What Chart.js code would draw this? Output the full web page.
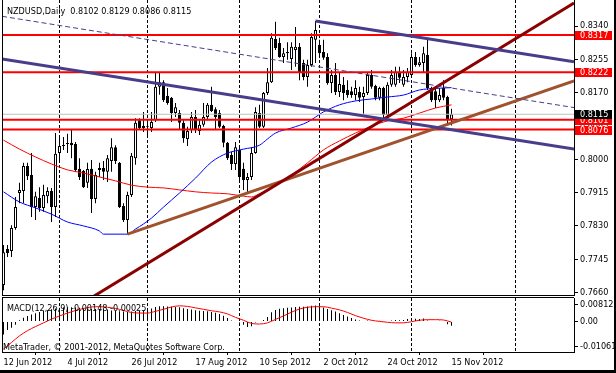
<!DOCTYPE html>
<html><head><meta charset="utf-8">
<script src="https://cdn.jsdelivr.net/npm/chart.js@4/dist/chart.umd.min.js"></script>
<style>
html,body{margin:0;padding:0;background:#fff;}
#wrap{position:relative;width:616px;height:373px;overflow:hidden;background:#fff;}
#c1{position:absolute;left:0;top:0;}
#c2{position:absolute;left:0;top:296px;}
#fr{position:absolute;right:0;top:0;width:2px;height:373px;background:#000;}
#fb{position:absolute;left:0;bottom:0;width:616px;height:3px;background:#000;}
</style></head><body>
<div id="wrap"><canvas id="c1" width="616" height="296"></canvas><canvas id="c2" width="616" height="77"></canvas><div id="fr"></div><div id="fb"></div></div>
<script>
// ---------- DATA ----------
const dateTickIdx = [0,16,32,48,64,80,96,112];
const dateLabels = ["12 Jun 2012","4 Jul 2012","26 Jul 2012","17 Aug 2012","10 Sep 2012","2 Oct 2012","24 Oct 2012","15 Nov 2012"];
const monthGridIdx = [14,36,59,79,102,128];
const priceTicks = [0.7660,0.7745,0.7830,0.7915,0.8000,0.8085,0.8170,0.8255,0.8340];

const opens = [0.7679,0.7771,0.7766,0.7825,0.7914,0.7919,0.7983,0.7960,0.7878,0.7901,
0.7876,0.7906,0.7919,0.7878,0.8016,0.8034,0.8039,0.8042,0.8039,0.7976,
0.7970,0.7940,0.7976,0.7899,0.7973,0.7978,0.7968,0.7996,0.8031,0.7991,
0.7881,0.7845,0.7909,0.8003,0.8100,0.8080,0.8083,0.8080,0.8100,0.8185,
0.8197,0.8162,0.8157,0.8118,0.8118,0.8093,0.8052,0.8075,0.8108,0.8072,
0.8088,0.8108,0.8139,0.8128,0.8118,0.8085,0.8042,0.8011,0.7988,0.8024,
0.7976,0.7947,0.7955,0.8016,0.8118,0.8083,0.8169,0.8197,0.8307,0.8297,
0.8261,0.8274,0.8256,0.8279,0.8287,0.8246,0.8210,0.8241,0.8305,0.8292,
0.8274,0.8261,0.8195,0.8215,0.8172,0.8190,0.8177,0.8174,0.8164,0.8172,
0.8159,0.8169,0.8215,0.8187,0.8157,0.8182,0.8113,0.8190,0.8190,0.8223,
0.8190,0.8210,0.8215,0.8261,0.8241,0.8246,0.8266,0.8182,0.8174,0.8151,
0.8182,0.8159,0.8102];
const highs = [0.7781,0.7781,0.7832,0.7904,0.7940,0.7991,0.7991,0.8016,0.7917,0.7929,
0.7935,0.7929,0.7927,0.8067,0.8057,0.8057,0.8065,0.8075,0.8044,0.8003,
0.7973,0.7991,0.7998,0.7968,0.7991,0.7996,0.8011,0.8054,0.8036,0.7993,
0.7888,0.7917,0.8016,0.8105,0.8105,0.8121,0.8100,0.8121,0.8220,0.8220,
0.8202,0.8182,0.8159,0.8144,0.8126,0.8100,0.8083,0.8121,0.8126,0.8100,
0.8144,0.8144,0.8185,0.8133,0.8126,0.8088,0.8044,0.8019,0.8044,0.8029,
0.7991,0.7965,0.8031,0.8133,0.8139,0.8172,0.8233,0.8322,0.8351,0.8310,
0.8284,0.8299,0.8299,0.8338,0.8297,0.8254,0.8254,0.8322,0.8353,0.8305,
0.8305,0.8271,0.8228,0.8246,0.8220,0.8210,0.8202,0.8185,0.8202,0.8185,
0.8185,0.8223,0.8228,0.8190,0.8185,0.8185,0.8197,0.8228,0.8236,0.8236,
0.8228,0.8233,0.8271,0.8274,0.8261,0.8287,0.8310,0.8185,0.8185,0.8182,
0.8202,0.8162,0.8129];
const lows = [0.7666,0.7751,0.7751,0.7820,0.7888,0.7888,0.7947,0.7853,0.7845,0.7866,
0.7866,0.7888,0.7840,0.7853,0.7993,0.8024,0.8016,0.8003,0.7968,0.7947,
0.7927,0.7927,0.7863,0.7888,0.7955,0.7947,0.7942,0.7968,0.7988,0.7876,
0.7840,0.7809,0.7904,0.7986,0.8075,0.8070,0.8057,0.8070,0.8095,0.8165,
0.8146,0.8139,0.8095,0.8108,0.8075,0.8042,0.8034,0.8067,0.8067,0.8062,
0.8083,0.8100,0.8121,0.8075,0.8080,0.8031,0.7998,0.7973,0.7973,0.7942,
0.7922,0.7914,0.7947,0.8014,0.8080,0.8080,0.8164,0.8195,0.8279,0.8259,
0.8246,0.8254,0.8228,0.8236,0.8202,0.8202,0.8185,0.8236,0.8246,0.8261,
0.8254,0.8190,0.8169,0.8164,0.8159,0.8151,0.8157,0.8157,0.8151,0.8146,
0.8116,0.8164,0.8180,0.8151,0.8151,0.8100,0.8108,0.8185,0.8185,0.8195,
0.8185,0.8197,0.8210,0.8236,0.8236,0.8223,0.8177,0.8146,0.8131,0.8146,
0.8151,0.8088,0.8086];
const closes = [0.7763,0.7761,0.7825,0.7878,0.7922,0.7983,0.7957,0.7878,0.7906,0.7876,
0.7909,0.7919,0.7878,0.8014,0.8034,0.8036,0.8040,0.8036,0.7973,0.7955,
0.7929,0.7975,0.7899,0.7960,0.7978,0.7968,0.8003,0.8031,0.7996,0.7878,
0.7845,0.7909,0.8009,0.8093,0.8080,0.8085,0.8084,0.8095,0.8185,0.8197,
0.8151,0.8144,0.8118,0.8133,0.8093,0.8054,0.8072,0.8108,0.8075,0.8088,
0.8108,0.8139,0.8123,0.8108,0.8083,0.8042,0.8003,0.7988,0.8031,0.7955,
0.7947,0.7955,0.8016,0.8121,0.8083,0.8169,0.8197,0.8310,0.8284,0.8261,
0.8271,0.8271,0.8287,0.8287,0.8220,0.8210,0.8241,0.8312,0.8330,0.8271,
0.8259,0.8195,0.8215,0.8172,0.8192,0.8169,0.8164,0.8164,0.8182,0.8157,
0.8169,0.8215,0.8185,0.8157,0.8182,0.8113,0.8190,0.8215,0.8223,0.8208,
0.8210,0.8223,0.8261,0.8241,0.8248,0.8271,0.8182,0.8151,0.8151,0.8164,
0.8157,0.8103,0.8115];

const blueMAIdx = [0,4,8,12,16,20,24,25,31,33,35,37,40,44,48,52,56,60,64,66,68,72,76,80,84,88,92,96,100,104,108,112];
const blueMA = [0.7917,0.7891,0.7876,0.7860,0.7840,0.7830,0.7817,0.7809,0.7809,0.7822,0.7835,0.7850,0.7878,0.7914,0.7952,0.7993,0.8016,0.8026,0.8036,0.8052,0.8067,0.8080,0.8095,0.8121,0.8139,0.8149,0.8154,0.8159,0.8164,0.8177,0.8181,0.8183];
const redMAIdx = [0,4,8,12,16,20,24,28,32,36,40,44,48,52,56,60,62,64,66,68,72,76,80,84,88,92,96,100,104,108,112];
const redMA = [0.8049,0.8026,0.8006,0.7988,0.7973,0.7965,0.7955,0.7945,0.7934,0.7929,0.7927,0.7922,0.7917,0.7914,0.7912,0.7906,0.7904,0.7912,0.7922,0.7934,0.7960,0.7991,0.8024,0.8047,0.8067,0.8085,0.8098,0.8105,0.8118,0.8131,0.8139];

const redLevels = [0.8317,0.8222,0.8101,0.8076];
const lastPrice = 0.8115;

const channelLow = [[-0.375,0.8256],[142.625,0.8026]];
const channelHigh = [[78,0.8353],[142.625,0.8249]];
const channelMid = [[-0.375,0.8365],[142.625,0.8132]];
const trendRed = [[22,0.7647],[142.625,0.8399]];
const trendBrown = [[31,0.7809],[142.625,0.8200]];

const macdMain = [-0.0045,-0.0030,-0.0022,-0.0012,0.0004,0.0013,0.0019,0.0024,0.0028,0.0033,
0.0036,0.0039,0.0042,0.0045,0.0047,0.0048,0.0049,0.0049,0.0048,0.0047,
0.0046,0.0045,0.0044,0.0043,0.0043,0.0042,0.0041,0.0038,0.0036,0.0035,
0.0034,0.0033,0.0034,0.0036,0.0036,0.0037,0.0038,0.0045,0.0050,0.0053,
0.0053,0.0052,0.0051,0.0050,0.0049,0.0046,0.0043,0.0041,0.0039,0.0037,
0.0036,0.0035,0.0033,0.0030,0.0026,0.0020,0.0012,0.0003,0.0001,-0.0004,
-0.0012,-0.0019,-0.0017,-0.0004,-0.0002,0.0005,0.0015,0.0032,0.0040,0.0044,
0.0046,0.0047,0.0048,0.0050,0.0051,0.0051,0.0052,0.0054,0.0055,0.0053,
0.0048,0.0043,0.0039,0.0034,0.0028,0.0022,0.0017,0.0012,0.0007,0.0003,
0.0001,0.0003,0.0002,0.0001,0.0002,-0.0002,0.0001,0.0003,0.0005,0.0004,
0.0005,0.0008,0.0010,0.0009,0.0008,0.0010,0.0003,0.0001,0.0000,0.0002,
-0.0002,-0.0010,-0.00148];
const signalIdx = [0,2,4,6,8,10,12,14,16,18,20,22,24,26,28,30,32,34,36,38,40,42,44,46,48,50,52,54,56,58,60,62,64,66,68,70,72,74,76,78,80,82,84,86,88,90,92,94,96,98,100,102,104,106,108,110,112];
const signal = [-0.0096,-0.0073,-0.0050,-0.0032,-0.0018,-0.0005,0.0008,0.0019,0.0029,0.0038,0.0045,0.0050,0.0051,0.0049,0.0045,0.0038,0.0031,0.0029,0.0029,0.0035,0.0042,0.0050,0.0054,0.0052,0.0047,0.0042,0.0037,0.0033,0.0026,0.0014,0.0004,-0.0007,-0.0009,-0.0005,0.0007,0.0019,0.0032,0.0043,0.0049,0.0051,0.0051,0.0046,0.0040,0.0031,0.0020,0.0011,0.0004,0.0000,-0.0003,-0.0005,-0.0005,-0.0001,0.0004,0.0006,0.0006,0.0005,-0.00025];
const macdMax = 0.00812, macdMin = -0.01061;

// ---------- RENDER ----------
const FAM = '"DejaVu Sans Condensed","DejaVu Sans",sans-serif';
const FS = 9;
const FONT = FS + 'px ' + FAM;
const X_MIN = -0.375, X_MAX = 142.625;

function seg(pts, color, w, order, dash) {
  return {type:'line', data: pts.map(p => ({x:p[0], y:p[1]})), borderColor: color, borderWidth: w,
    pointRadius: 0, fill: false, clip: 0, order: order, borderDash: dash || [], tension: 0};
}
function hline(v, color, w) { return seg([[X_MIN, v],[X_MAX, v]], color, w, 0); }
const noPad = s => { s.paddingTop = 0; s.paddingBottom = 0; s.paddingLeft = 0; s.paddingRight = 0; };

const drawGrid = (chart) => {
  const {ctx, chartArea: a, scales: {x}} = chart;
  ctx.save();
  ctx.strokeStyle = '#000'; ctx.lineWidth = 1; ctx.setLineDash([3,2]);
  monthGridIdx.forEach(i => {
    const px = Math.floor(x.getPixelForValue(i)) + 0.5;
    if (px < a.left || px > a.right) return;
    ctx.beginPath(); ctx.moveTo(px, a.top); ctx.lineTo(px, a.bottom); ctx.stroke();
  });
  ctx.restore();
};

const mainPlugin = {
  id: 'mainDeco',
  beforeDatasetsDraw(chart) { drawGrid(chart); },
  afterDatasetsDraw(chart) {
    const {ctx, scales: {y}} = chart;
    ctx.save();
    ctx.font = FONT; ctx.textBaseline = 'middle';
    const box = (v, bg) => {
      const py = Math.round(y.getPixelForValue(v));
      ctx.fillStyle = bg; ctx.fillRect(575, py - 4, 37, 9);
      ctx.fillStyle = '#fff'; ctx.fillText(v.toFixed(4), 580, py + 0.5);
    };
    redLevels.forEach(v => box(v, '#ff0000'));
    box(lastPrice, '#000');
    ctx.restore();
  },
  afterDraw(chart) {
    const {ctx, chartArea: a} = chart;
    ctx.save();
    ctx.strokeStyle = '#000'; ctx.lineWidth = 1;
    ctx.beginPath(); ctx.moveTo(a.left + 0.5, 0); ctx.lineTo(a.left + 0.5, a.bottom + 1); ctx.stroke();
    ctx.beginPath(); ctx.moveTo(a.left, a.bottom + 0.5); ctx.lineTo(a.right, a.bottom + 0.5); ctx.stroke();
    ctx.font = FONT; ctx.fillStyle = '#000'; ctx.textBaseline = 'alphabetic';
    ctx.fillText('NZDUSD,Daily  0.8102 0.8129 0.8086 0.8115', 7, 14);
    ctx.restore();
  }
};

const macdPlugin = {
  id: 'macdDeco',
  beforeDatasetsDraw(chart) { drawGrid(chart); },
  afterDraw(chart) {
    const {ctx, chartArea: a, scales: {y}} = chart;
    ctx.save();
    ctx.strokeStyle = '#000'; ctx.lineWidth = 1;
    ctx.beginPath(); ctx.moveTo(a.left + 0.5, a.top - 0.5); ctx.lineTo(a.left + 0.5, a.bottom); ctx.stroke();
    ctx.beginPath(); ctx.moveTo(a.left, a.top - 0.5); ctx.lineTo(a.right, a.top - 0.5); ctx.stroke();
    ctx.font = FONT; ctx.fillStyle = '#000';
    const labs = [[macdMax.toFixed(5), a.top + 6], ['0.00', y.getPixelForValue(0)], [macdMin.toFixed(5), a.bottom - 6]];
    ctx.textBaseline = 'middle';
    labs.forEach(([t, py]) => {
      const yy = Math.round(py) + 0.5;
      ctx.beginPath(); ctx.moveTo(a.right, yy); ctx.lineTo(a.right + 4, yy); ctx.stroke();
      ctx.fillText(t, 580, yy);
    });
    ctx.textBaseline = 'alphabetic';
    ctx.fillText('MACD(12,26,9) -0.00148 -0.00025', 7, 15);
    ctx.fillText('MetaTrader, \u00A9 2001-2012, MetaQuotes Software Corp.', 3, 54);
    ctx.restore();
  }
};

const candleBodies = opens.map((o, i) => ({x: i, y: [o, closes[i]]}));
const candleWicks = lows.map((l, i) => ({x: i, y: [l, highs[i]]}));

new Chart(document.getElementById('c1'), {
  type: 'bar',
  data: { datasets: [
    seg(channelLow, '#483D8B', 3, 0),
    seg(channelHigh, '#483D8B', 3, 0),
    seg(channelMid, '#483D8B', 1, 0, [5,3]),
    seg(trendRed, '#8B0000', 3, 0),
    seg(trendBrown, '#A0522D', 3, 0),
    ...redLevels.map(v => hline(v, '#ff0000', 2)),
    hline(lastPrice, '#c0c0c0', 1),
    {type:'line', data: blueMAIdx.map((x, k) => ({x, y: blueMA[k]})), borderColor:'#0000ff', borderWidth:1, pointRadius:0, fill:false, clip:0, order:1, cubicInterpolationMode:'monotone'},
    {type:'line', data: redMAIdx.map((x, k) => ({x, y: redMA[k]})), borderColor:'#ff0000', borderWidth:1, pointRadius:0, fill:false, clip:0, order:1, cubicInterpolationMode:'monotone'},
    {type:'bar', data: candleBodies, barThickness: 3, grouped: false, order: 2, minBarLength: 1,
      backgroundColor: c => (closes[c.dataIndex] >= opens[c.dataIndex] ? '#ffffff' : '#000000'),
      borderColor: '#000', borderWidth: 1, borderSkipped: false, inflateAmount: 0},
    {type:'bar', data: candleWicks, barThickness: 1, grouped: false, order: 3,
      backgroundColor: '#000', borderWidth: 0, inflateAmount: 0}
  ]},
  options: {
    responsive: false, animation: false, devicePixelRatio: 1, events: [],
    layout: { padding: {left: 2, top: 0, right: 0, bottom: 1} },
    plugins: { legend: {display: false}, tooltip: {enabled: false} },
    scales: {
      x: { type: 'linear', display: false, min: X_MIN, max: X_MAX, offset: false },
      y: { type: 'linear', position: 'right', min: 0.76537, max: 0.84066, z: 1,
        afterFit: s => { s.width = 42; noPad(s); },
        afterBuildTicks: s => { s.ticks = priceTicks.map(v => ({value: v})); },
        ticks: { callback: v => Number(v).toFixed(4), font: {family: FAM, size: FS}, color: '#000', padding: 2 },
        grid: { drawOnChartArea: false, drawTicks: true, tickLength: 4, color: '#000' },
        border: { display: true, color: '#000' } }
    }
  },
  plugins: [mainPlugin]
});

new Chart(document.getElementById('c2'), {
  type: 'bar',
  data: { datasets: [
    {type:'line', data: signalIdx.map((x, k) => ({x, y: signal[k]})), borderColor:'#ff0000', borderWidth:1, pointRadius:0, fill:false, clip:0, order:0, cubicInterpolationMode:'monotone'},
    {type:'bar', data: macdMain.map((v, i) => ({x: i, y: v})), barThickness: 1, grouped: false, order: 1, backgroundColor: '#000', borderWidth: 0, inflateAmount: 0}
  ]},
  options: {
    responsive: false, animation: false, devicePixelRatio: 1, events: [],
    layout: { padding: {left: 2, top: 2, right: 0, bottom: 0} },
    plugins: { legend: {display: false}, tooltip: {enabled: false} },
    scales: {
      x: { type: 'linear', position: 'bottom', min: X_MIN, max: X_MAX, offset: false,
        afterFit: s => { s.height = 21; noPad(s); },
        afterBuildTicks: s => { s.ticks = dateTickIdx.map(v => ({value: v})); },
        ticks: { callback: (v, i) => dateLabels[i], align: 'start', autoSkip: false, maxRotation: 0, minRotation: 0,
          font: {family: FAM, size: FS}, color: '#000', padding: 2 },
        grid: { drawOnChartArea: false, drawTicks: true, tickLength: 3, color: '#000' },
        border: { display: true, color: '#000' } },
      y: { type: 'linear', position: 'right', min: macdMin, max: macdMax,
        afterFit: s => { s.width = 42; noPad(s); },
        ticks: { display: false },
        grid: { drawOnChartArea: false, drawTicks: false },
        border: { display: true, color: '#000' } }
    }
  },
  plugins: [macdPlugin]
});
</script>
</body></html>
